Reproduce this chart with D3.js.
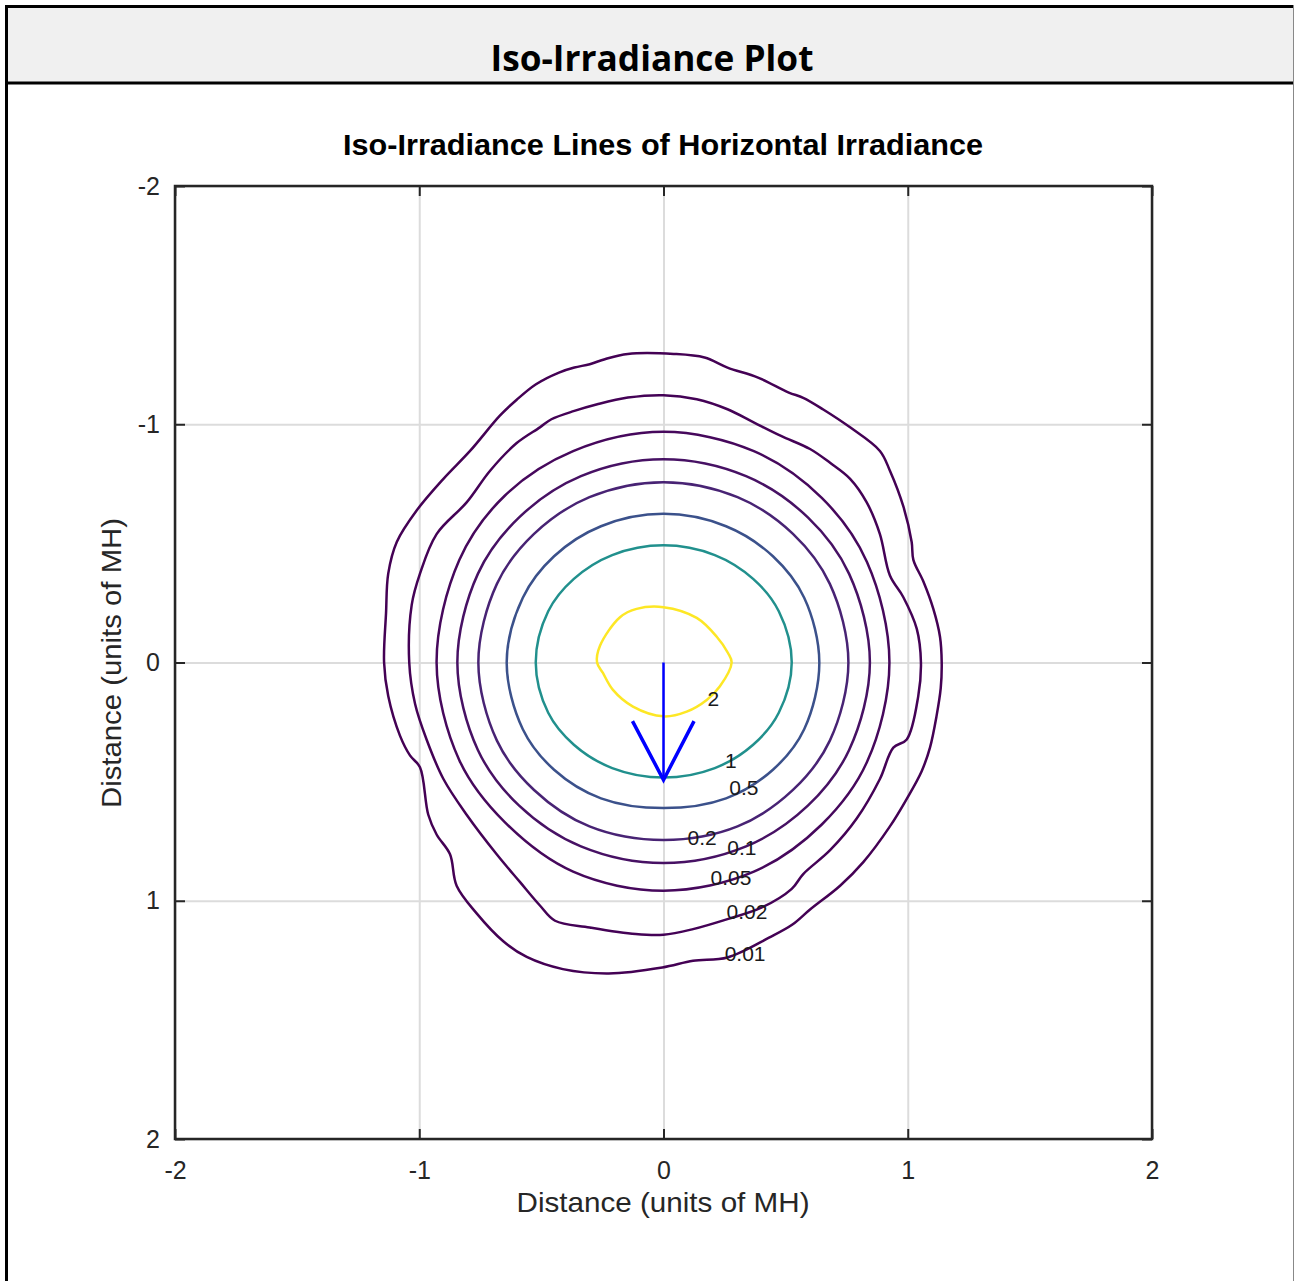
<!DOCTYPE html>
<html>
<head>
<meta charset="utf-8">
<script src="https://cdn.jsdelivr.net/npm/d3@7"></script>
<style>
  body { margin: 0; background: #fff; }
  svg { display: block; }
</style>
</head>
<body>
<div id="chart"></div>
<script>
// contour levels and their traced outlines (data units, MH)
const levels = [0.01, 0.02, 0.05, 0.1, 0.2, 0.5, 1, 2];

const contour001 = [[0.042,-1.295],[0.168,-1.28],[0.262,-1.238],[0.387,-1.196],[0.513,-1.133],[0.572,-1.111],[0.654,-1.062],[0.764,-0.987],[0.886,-0.888],[0.927,-0.805],[0.982,-0.655],[1.016,-0.506],[1.023,-0.431],[1.064,-0.34],[1.105,-0.224],[1.132,-0.108],[1.139,0],[1.135,0.108],[1.118,0.224],[1.091,0.357],[1.057,0.456],[0.996,0.572],[0.927,0.688],[0.818,0.838],[0.723,0.937],[0.6,1.037],[0.528,1.1],[0.434,1.154],[0.262,1.238],[0.121,1.252],[-0.005,1.28],[-0.224,1.305],[-0.412,1.287],[-0.56,1.236],[-0.656,1.17],[-0.765,1.053],[-0.847,0.937],[-0.874,0.805],[-0.929,0.722],[-0.963,0.639],[-0.997,0.44],[-1.038,0.39],[-1.079,0.307],[-1.127,0.141],[-1.144,0],[-1.136,-0.207],[-1.127,-0.373],[-1.092,-0.506],[-1.01,-0.639],[-0.901,-0.771],[-0.792,-0.888],[-0.669,-1.037],[-0.601,-1.103],[-0.522,-1.168],[-0.428,-1.217],[-0.365,-1.238],[-0.302,-1.252],[-0.24,-1.273],[-0.146,-1.295]];
const contour002 = [[0,-1.122],[0.136,-1.105],[0.262,-1.063],[0.371,-1.007],[0.481,-0.951],[0.6,-0.896],[0.682,-0.838],[0.764,-0.771],[0.832,-0.672],[0.886,-0.539],[0.927,-0.365],[0.982,-0.274],[1.037,-0.141],[1.054,0],[1.043,0.141],[0.996,0.323],[0.941,0.357],[0.886,0.489],[0.791,0.655],[0.682,0.788],[0.572,0.888],[0.525,0.95],[0.403,1.028],[0.262,1.077],[0.121,1.119],[0,1.143],[-0.114,1.14],[-0.302,1.112],[-0.444,1.084],[-0.506,1.02],[-0.588,0.921],[-0.683,0.805],[-0.806,0.639],[-0.901,0.489],[-0.97,0.323],[-1.017,0.174],[-1.041,0],[-1.031,-0.241],[-0.997,-0.373],[-0.929,-0.539],[-0.806,-0.672],[-0.71,-0.805],[-0.601,-0.921],[-0.506,-0.987],[-0.459,-1.021],[-0.365,-1.056],[-0.271,-1.084],[-0.146,-1.112]];
const contour005 = [[0,-0.968],[0.37,-0.887],[0.648,-0.691],[0.833,-0.422],[0.925,0],[0.833,0.418],[0.648,0.68],[0.37,0.878],[0,0.958],[-0.37,0.878],[-0.65,0.67],[-0.836,0.41],[-0.929,0],[-0.836,-0.43],[-0.65,-0.7],[-0.37,-0.887]];
const contour01 = [[0,-0.853],[0.338,-0.782],[0.591,-0.609],[0.76,-0.372],[0.845,0],[0.76,0.367],[0.591,0.601],[0.338,0.772],[0,0.842],[-0.338,0.772],[-0.591,0.601],[-0.76,0.367],[-0.844,0],[-0.76,-0.372],[-0.591,-0.609],[-0.338,-0.782]];
const contour02 = [[0,-0.757],[0.303,-0.694],[0.53,-0.54],[0.681,-0.33],[0.757,0],[0.681,0.328],[0.53,0.535],[0.303,0.688],[0,0.745],[-0.303,0.688],[-0.53,0.535],[-0.682,0.328],[-0.758,0],[-0.682,-0.33],[-0.53,-0.54],[-0.303,-0.694]];
const contour05 = [[0,-0.624],[0.256,-0.572],[0.448,-0.446],[0.576,-0.272],[0.638,0],[0.576,0.28],[0.448,0.45],[0.256,0.57],[0,0.611],[-0.256,0.57],[-0.448,0.45],[-0.576,0.28],[-0.642,0],[-0.576,-0.272],[-0.448,-0.446],[-0.256,-0.572]];
const contour1 = [[0,-0.492],[0.21,-0.451],[0.367,-0.351],[0.472,-0.215],[0.525,0],[0.472,0.211],[0.367,0.345],[0.21,0.443],[0,0.483],[-0.21,0.443],[-0.367,0.345],[-0.472,0.211],[-0.523,0],[-0.472,-0.215],[-0.367,-0.351],[-0.21,-0.451]];
const contour2 = [[0,-0.232],[0.136,-0.187],[0.218,-0.108],[0.264,-0.04],[0.279,0],[0.231,0.1],[0.177,0.157],[0.095,0.206],[0,0.226],[-0.125,0.185],[-0.207,0.115],[-0.248,0.044],[-0.272,0],[-0.26,-0.07],[-0.178,-0.19],[-0.11,-0.225]];
const contours = [contour001, contour002, contour005, contour01, contour02, contour05, contour1, contour2];

// contour label text and positions
const labelText = ['2', '1', '0.5', '0.2', '0.1', '0.05', '0.02', '0.01'];
const labelX = [0.204, 0.276, 0.329, 0.158, 0.321, 0.276, 0.342, 0.334];
const labelY = [0.153, 0.413, 0.527, 0.737, 0.779, 0.905, 1.047, 1.223];

// luminaire aiming arrow
const arrowShaft = [[0, 0], [0, 0.49]];
const arrowHead = [[-0.127, 0.246], [0, 0.493], [0.125, 0.246]];

const xTicks = [-2, -1, 0, 1, 2];
const yTicks = [-2, -1, 0, 1, 2];

const W = 1294, H = 1281;
const svg = d3.select('#chart').append('svg')
  .attr('width', W)
  .attr('height', H);

// panel box with grey header
svg.append('rect').attr('x', 6).attr('y', 6).attr('width', W - 6).attr('height', 77).attr('fill', '#f0f0f0');
svg.append('line').attr('x1', 5).attr('x2', W).attr('y1', 6.5).attr('y2', 6.5).attr('stroke', '#000').attr('stroke-width', 3);
svg.append('line').attr('x1', 5).attr('x2', W).attr('y1', 83).attr('y2', 83).attr('stroke', '#000').attr('stroke-width', 3);
svg.append('line').attr('x1', 6.5).attr('x2', 6.5).attr('y1', 5).attr('y2', H).attr('stroke', '#000').attr('stroke-width', 3);
svg.append('line').attr('x1', 1293.5).attr('x2', 1293.5).attr('y1', 5).attr('y2', H).attr('stroke', '#888').attr('stroke-width', 1);

svg.append('text')
  .attr('x', 652).attr('y', 71)
  .attr('text-anchor', 'middle')
  .attr('font-family', '"Open Sans", sans-serif')
  .attr('font-weight', 'bold')
  .attr('font-size', 35)
  .attr('textLength', 323)
  .attr('lengthAdjust', 'spacingAndGlyphs')
  .attr('fill', '#000')
  .text('Iso-Irradiance Plot');

const x = d3.scaleLinear().domain([-2, 2]).range([175, 1152]);
const y = d3.scaleLinear().domain([-2, 2]).range([186, 1139]);
const plotW = 1152 - 175, plotH = 1139 - 186;

const font = '"Liberation Sans", Arial, sans-serif';

// grid
svg.append('g')
  .attr('class', 'grid')
  .attr('transform', `translate(0,${y(2)})`)
  .call(d3.axisBottom(x).tickValues(xTicks).tickSize(-plotH).tickFormat(() => ''))
  .call(g => g.select('.domain').remove())
  .selectAll('line').attr('stroke', '#dcdcdc').attr('stroke-width', 2);
svg.append('g')
  .attr('class', 'grid')
  .attr('transform', `translate(${x(-2)},0)`)
  .call(d3.axisLeft(y).tickValues(yTicks).tickSize(-plotW).tickFormat(() => ''))
  .call(g => g.select('.domain').remove())
  .selectAll('line').attr('stroke', '#dcdcdc').attr('stroke-width', 2);

// contours
const color = d3.scaleSequential(d3.interpolateViridis).domain([0.01, 2]);
const line = d3.line()
  .x(d => x(d[0]))
  .y(d => y(d[1]))
  .curve(d3.curveCatmullRomClosed.alpha(0.5));

svg.append('g')
  .selectAll('path')
  .data(contours)
  .enter()
  .append('path')
    .attr('d', line)
    .attr('fill', 'none')
    .attr('stroke', (d, i) => color(levels[i]))
    .attr('stroke-width', 2.5);

// arrow
const straight = d3.line().x(d => x(d[0])).y(d => y(d[1]));
svg.append('path').attr('d', straight(arrowShaft)).attr('fill', 'none').attr('stroke', '#0000ff').attr('stroke-width', 2.5);
svg.append('path').attr('d', straight(arrowHead)).attr('fill', 'none').attr('stroke', '#0000ff').attr('stroke-width', 3.5).attr('stroke-linejoin', 'miter');

// contour labels
svg.append('g')
  .selectAll('text')
  .data(labelText)
  .enter()
  .append('text')
    .attr('x', (d, i) => x(labelX[i]))
    .attr('y', (d, i) => y(labelY[i]))
    .attr('dy', '0.35em')
    .attr('text-anchor', 'middle')
    .attr('font-family', font)
    .attr('font-size', 21)
    .attr('fill', '#1a1a1a')
    .text(d => d);

// axes, ticks pointing inward
const axisColor = '#262626';
function styleAxis(g) {
  g.select('.domain').remove();
  g.selectAll('line').attr('stroke', axisColor).attr('stroke-width', 2);
  g.selectAll('text').attr('font-family', font).attr('font-size', 25).attr('fill', axisColor);
}
svg.append('g')
  .attr('transform', `translate(0,${y(2)})`)
  .call(d3.axisBottom(x).tickValues(xTicks).tickSize(-10).tickPadding(22).tickFormat(d => String(d)))
  .call(styleAxis);
svg.append('g')
  .attr('transform', `translate(0,${y(-2)})`)
  .call(d3.axisTop(x).tickValues(xTicks).tickSize(-10).tickFormat(() => ''))
  .call(styleAxis);
svg.append('g')
  .attr('transform', `translate(${x(-2)},0)`)
  .call(d3.axisLeft(y).tickValues(yTicks).tickSize(-10).tickPadding(15).tickFormat(d => String(d)))
  .call(styleAxis);
svg.append('g')
  .attr('transform', `translate(${x(2)},0)`)
  .call(d3.axisRight(y).tickValues(yTicks).tickSize(-10).tickFormat(() => ''))
  .call(styleAxis);

// frame
svg.append('rect')
  .attr('x', x(-2)).attr('y', y(-2))
  .attr('width', plotW).attr('height', plotH)
  .attr('fill', 'none')
  .attr('stroke', axisColor)
  .attr('stroke-width', 2.5);

// titles
svg.append('text')
  .attr('x', 663).attr('y', 155)
  .attr('text-anchor', 'middle')
  .attr('font-family', font)
  .attr('font-weight', 'bold')
  .attr('font-size', 29)
  .attr('textLength', 640)
  .attr('lengthAdjust', 'spacingAndGlyphs')
  .attr('fill', '#000')
  .text('Iso-Irradiance Lines of Horizontal Irradiance');

svg.append('text')
  .attr('x', 663).attr('y', 1212)
  .attr('text-anchor', 'middle')
  .attr('font-family', font)
  .attr('font-size', 28)
  .attr('textLength', 293)
  .attr('lengthAdjust', 'spacingAndGlyphs')
  .attr('fill', axisColor)
  .text('Distance (units of MH)');

svg.append('text')
  .attr('transform', 'translate(121,663) rotate(-90)')
  .attr('text-anchor', 'middle')
  .attr('font-family', font)
  .attr('font-size', 28)
  .attr('textLength', 290)
  .attr('lengthAdjust', 'spacingAndGlyphs')
  .attr('fill', axisColor)
  .text('Distance (units of MH)');
</script>
</body>
</html>
